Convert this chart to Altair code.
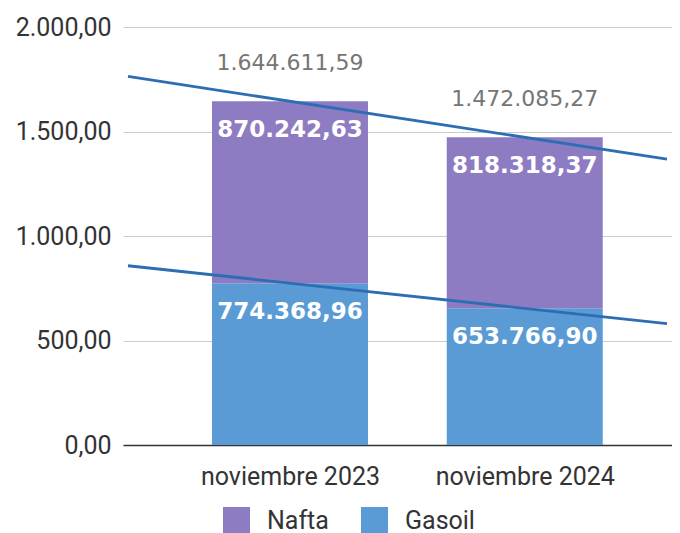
import altair as alt
import pandas as pd

# ---- data ----
categorias = ["noviembre 2023", "noviembre 2024"]
gasoil = [774368.96, 653766.90]
nafta = [870242.63, 818318.37]
series = ["Nafta", "Gasoil"]
colores = ["#8E7CC3", "#5B9BD5"]
y_ticks = [0, 500, 1000, 1500, 2000]


def fmt_es(v):
    s = f"{v:,.2f}"
    return s.replace(",", "X").replace(".", ",").replace("X", ".")


rows = []
for i, cat in enumerate(categorias):
    g = gasoil[i] / 1000.0
    n = nafta[i] / 1000.0
    rows.append({"idx": i, "cat": cat, "serie": "Gasoil", "orden": 0, "val": g,
                 "top": g, "etiqueta": fmt_es(gasoil[i])})
    rows.append({"idx": i, "cat": cat, "serie": "Nafta", "orden": 1, "val": n,
                 "top": g + n, "etiqueta": fmt_es(nafta[i])})
df = pd.DataFrame(rows)

tot_rows = []
for i, cat in enumerate(categorias):
    t = gasoil[i] + nafta[i]
    tot_rows.append({"idx": i, "serie": "Total", "val": t / 1000.0, "etiqueta": fmt_es(t)})
    tot_rows.append({"idx": i, "serie": "Gasoil", "val": gasoil[i] / 1000.0, "etiqueta": ""})
df_trend = pd.DataFrame(tot_rows)
df_tot = df_trend[df_trend["serie"] == "Total"]

X_MIN, X_MAX = -0.69, 1.606

xscale = alt.Scale(domain=[X_MIN, X_MAX], nice=False, zero=False)
yscale = alt.Scale(domain=[0, 2000], nice=False)

lab_expr = "datum.value == 0 ? '%s' : (datum.value == 1 ? '%s' : '')" % (categorias[0], categorias[1])
xaxis = alt.Axis(values=[0, 1], labelExpr=lab_expr, grid=False, ticks=False,
                 domain=True, domainColor="#333333", domainWidth=1.5,
                 labelFont="Roboto", labelFontSize=25, labelColor="#333333",
                 labelPadding=19, title=None)
yaxis = alt.Axis(values=y_ticks,
                 labelExpr="replace(replace(replace(format(datum.value, ',.2f'), ',', 'X'), '.', ','), 'X', '.')",
                 grid=True, gridColor="#CCCCCC", gridWidth=1, ticks=False, domain=False,
                 labelFont="Roboto", labelFontSize=25, labelColor="#333333",
                 labelPadding=12, title=None)

X = alt.X("idx:Q", scale=xscale, axis=xaxis)

bars = alt.Chart(df).mark_bar(size=156).encode(
    x=X,
    y=alt.Y("val:Q", stack="zero", scale=yscale, axis=yaxis),
    color=alt.Color("serie:N", scale=alt.Scale(domain=series, range=colores),
                    legend=alt.Legend(title=None, orient="none", legendX=100, legendY=480,
                                      direction="horizontal", symbolType="square",
                                      symbolSize=729, symbolStrokeWidth=0, symbolOpacity=1,
                                      labelFont="Roboto", labelFontSize=25,
                                      labelColor="#333333", labelOffset=17,
                                      columnPadding=32, padding=0)),
    order=alt.Order("orden:Q"),
)

trend = alt.Chart(df_trend).transform_regression(
    "idx", "val", groupby=["serie"], extent=[X_MIN, X_MAX]
).mark_line(color="#2D6DB4", strokeWidth=2.8, clip=True).encode(
    x=X,
    y=alt.Y("val:Q", scale=yscale, axis=yaxis),
    detail="serie:N",
)

inner = alt.Chart(df).mark_text(color="white", font="DejaVu Sans", fontSize=23,
                                fontWeight="bold",
                                baseline="alphabetic", align="center", dy=35.5).encode(
    x=X,
    y=alt.Y("top:Q", scale=yscale, axis=yaxis),
    text="etiqueta:N",
)

totals = alt.Chart(df_tot).mark_text(color="#757575", font="DejaVu Sans", fontSize=22,
                                     baseline="alphabetic", align="center", dy=-31).encode(
    x=X,
    y=alt.Y("val:Q", scale=yscale, axis=yaxis),
    text="etiqueta:N",
)

chart = alt.layer(bars, trend, inner, totals).properties(
    width=549, height=418,
    autosize=alt.AutoSizeParams(type="none"),
    padding={"left": 115, "top": 19, "right": 0, "bottom": 88},
    background="white",
).configure_view(stroke=None)

chart.save("out.html", embed_options={"renderer": "svg", "actions": False})
